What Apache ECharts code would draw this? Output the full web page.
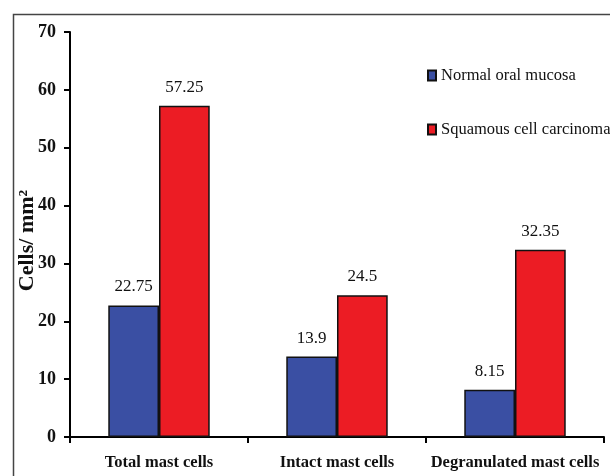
<!DOCTYPE html>
<html>
<head>
<meta charset="utf-8">
<script src="https://cdn.jsdelivr.net/npm/echarts@6/dist/echarts.min.js"></script>
<style>html,body{margin:0;padding:0;background:#fff}#c{width:610px;height:476px}</style>
</head>
<body>
<div id="c"></div>
<script>
var categories = ['Total mast cells', 'Intact mast cells', 'Degranulated mast cells'];
var normalValues = [22.75, 13.9, 8.15];
var scValues = [57.25, 24.5, 32.35];
var seriesNames = ['Normal oral mucosa', 'Squamous cell carcinoma'];
var yTicks = [0, 10, 20, 30, 40, 50, 60, 70];

var serif = '"Liberation Serif", "Times New Roman", serif';
var chart = echarts.init(document.getElementById('c'));
chart.setOption({
  animation: false,
  backgroundColor: '#fff',
  graphic: [{
    type: 'rect', left: 11, top: 12,
    shape: { x: 0, y: 0, width: 640, height: 520 },
    style: { fill: 'none', stroke: '#444', lineWidth: 1.5 },
    silent: true
  }],
  grid: { left: 70, right: 6, top: 32, bottom: 39, containLabel: false, outerBoundsMode: 'none' },
  legend: {
    orient: 'vertical', left: 422, top: 62, itemGap: 37,
    itemWidth: 8, itemHeight: 10, icon: 'rect',
    textStyle: { fontFamily: serif, fontSize: 16.5, color: '#111' },
    data: seriesNames
  },
  xAxis: {
    type: 'category', data: categories,
    axisLine: { lineStyle: { color: '#000', width: 2 } },
    axisTick: { show: true, length: 6, lineStyle: { color: '#000', width: 2 } },
    axisLabel: { margin: 17, fontFamily: serif, fontWeight: 'bold', fontSize: 16.5, color: '#111', interval: 0 }
  },
  yAxis: {
    type: 'value', min: yTicks[0], max: yTicks[yTicks.length - 1], interval: 10,
    name: 'Cells/ mm\u00B2', nameLocation: 'middle', nameGap: 32, nameMoveOverlap: false,
    nameTextStyle: { fontFamily: serif, fontWeight: 'bold', fontSize: 22, color: '#111', padding: [0, 12, 0, 0] },
    splitLine: { show: false },
    axisLine: { show: true, lineStyle: { color: '#000', width: 2 } },
    axisTick: { show: true, length: 6, lineStyle: { color: '#000', width: 2 } },
    axisLabel: { margin: 14, fontFamily: serif, fontWeight: 'bold', fontSize: 18, color: '#111' }
  },
  series: [{
    name: seriesNames[0], type: 'bar', data: normalValues,
    barGap: '0%', barCategoryGap: '43%',
    itemStyle: { color: '#3a4fa3', borderColor: '#111', borderWidth: 1.5 },
    label: { show: true, position: 'top', distance: 10, fontFamily: serif, fontSize: 17, color: '#111' }
  }, {
    name: seriesNames[1], type: 'bar', data: scValues,
    barGap: '0%', barCategoryGap: '43%',
    itemStyle: { color: '#ec1c24', borderColor: '#111', borderWidth: 1.5 },
    label: { show: true, position: 'top', distance: 10, fontFamily: serif, fontSize: 17, color: '#111' }
  }]
});
</script>
</body>
</html>
